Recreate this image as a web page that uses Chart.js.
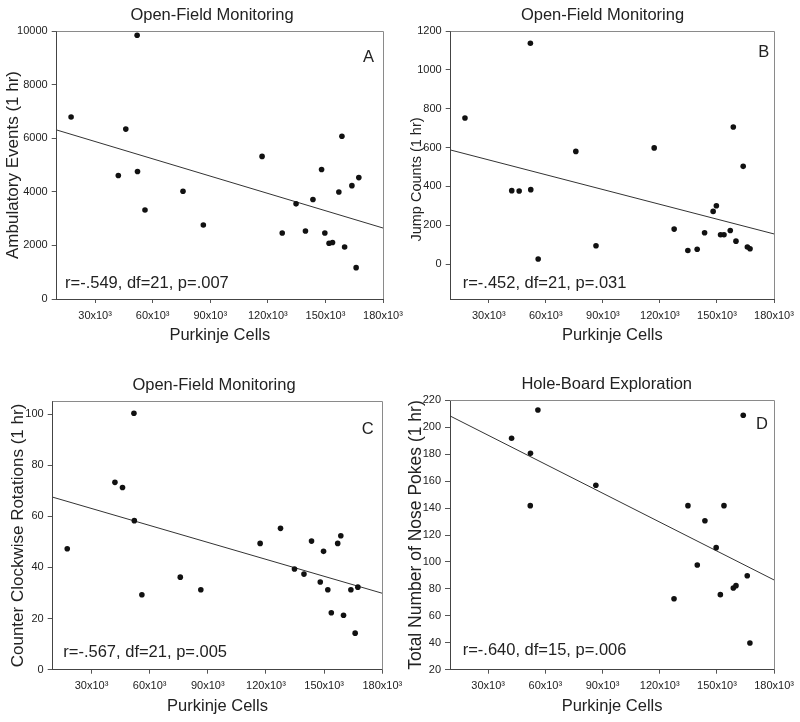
<!DOCTYPE html>
<html>
<head>
<meta charset="utf-8">
<title>Purkinje cells vs behaviour</title>
<script src="https://cdn.jsdelivr.net/npm/chart.js@4.4.0/dist/chart.umd.min.js"></script>
<style>
  body { margin: 0; background: #fff; width: 800px; height: 722px; position: relative; overflow: hidden; }
  canvas { position: absolute; }
</style>
</head>
<body>
<canvas id="panelA" width="420" height="361" style="left:0px;top:0px"></canvas>
<canvas id="panelB" width="400" height="361" style="left:400px;top:0px"></canvas>
<canvas id="panelC" width="420" height="361" style="left:0px;top:361px"></canvas>
<canvas id="panelD" width="400" height="361" style="left:400px;top:361px"></canvas>
<script>
// data

// Purkinje cell counts, same mice for panels A-C (n=23)
const purkinjeCells = [17500, 42100, 46000, 51900, 52100, 56000, 75800, 86400, 117000, 127500, 134700, 139600,
  143500, 148000, 149700, 151900, 153700, 157000, 158600, 160000, 163800, 166000, 167400];
const ambulatoryEvents = [6790, 4610, 6340, 9840, 4760, 3320, 4020, 2760, 5320, 2460, 3550, 2540,
  3710, 4830, 2460, 2080, 2110, 3990, 6070, 1940, 4230, 1170, 4530];
const jumpCounts = [752, 378, 376, 1137, 383, 26, 580, 94, 598, 180, 70, 76,
  161, 271, 300, 151, 151, 173, 706, 118, 503, 88, 79];
const ccwRotations = [47.3, 73.3, 71.3, 100.3, 58.3, 29.3, 36.2, 31.3, 49.4, 55.3, 39.4, 37.4,
  50.3, 34.3, 46.3, 31.3, 22.3, 49.4, 52.4, 21.3, 31.3, 14.3, 32.3];

// hole-board subset (n=17)
const holeBoardCells = [42300, 52200, 52100, 56100, 86500, 127500, 134800, 139700, 143700, 149600, 151800,
  153700, 158600, 160000, 163800, 165900, 167300];
const nosePokes = [191.8, 180.6, 141.8, 212.8, 156.9, 72.7, 141.8, 97.7, 130.6, 110.6, 75.7,
  141.8, 80.6, 82.4, 208.9, 89.8, 39.8];

// regression lines, ends read at the plot edges
const fitCells = [10000, 180000];
const ambulatoryFit = [6306, 2649];
const jumpFit = [587, 155];
const rotationFit = [67.5, 29.9];
const pokesFit = [208.4, 86.6];

// tick labels
const cellTicks = [30000, 60000, 90000, 120000, 150000, 180000];
const ambulatoryTicks = [0, 2000, 4000, 6000, 8000, 10000];
const jumpTicks = [0, 200, 400, 600, 800, 1000, 1200];
const rotationTicks = [0, 20, 40, 60, 80, 100];
const pokeTicks = [20, 40, 60, 80, 100, 120, 140, 160, 180, 200, 220];

const FONT = "'Liberation Sans', Arial, Helvetica, sans-serif";
const INK = "#222";

// frame on top/right + panel title, letter and stats text
const panelText = {
  id: "panelText",
  afterDraw(chart, args, opts) {
    const ctx = chart.ctx;
    const a = chart.chartArea;
    ctx.save();
    ctx.strokeStyle = "#8a8a8a";
    ctx.lineWidth = 1;
    ctx.beginPath();
    ctx.moveTo(a.left, Math.round(a.top) + 0.5);
    ctx.lineTo(Math.round(a.right) + 0.5, Math.round(a.top) + 0.5);
    ctx.lineTo(Math.round(a.right) + 0.5, a.bottom);
    ctx.stroke();

    ctx.fillStyle = INK;
    ctx.textBaseline = "alphabetic";
    ctx.font = "16.5px " + FONT;
    ctx.textAlign = "center";
    ctx.fillText(opts.title, opts.titleX, opts.titleY);
    ctx.textAlign = "left";
    ctx.fillText(opts.letter, opts.letterX, opts.letterY);
    ctx.fillText(opts.stats, opts.statsX, opts.statsY);
    ctx.restore();
  }
};

function makePanel(id, p) {
  const points = p.x.map((v, i) => ({ x: v, y: p.y[i] }));
  const fit = fitCells.map((v, i) => ({ x: v, y: p.fit[i] }));

  return new Chart(document.getElementById(id), {
    type: "scatter",
    data: {
      datasets: [
        {
          data: points,
          pointRadius: 2.8,
          pointBackgroundColor: "#111",
          pointBorderWidth: 0,
        },
        {
          data: fit,
          showLine: true,
          pointRadius: 0,
          borderColor: "#333",
          borderWidth: 1,
        },
      ],
    },
    options: {
      responsive: false,
      animation: false,
      events: [],
      layout: { padding: { left: 0, top: p.top, right: p.right, bottom: 0 } },
      plugins: {
        legend: { display: false },
        tooltip: { enabled: false },
        panelText: p.text,
      },
      scales: {
        x: {
          type: "linear",
          min: 10000,
          max: 180000,
          afterBuildTicks: (s) => { s.ticks = cellTicks.map((v) => ({ value: v })); },
          afterFit: (s) => { s.height = p.xHeight; },
          ticks: {
            font: { size: 11, family: FONT },
            color: INK,
            padding: 6,
            autoSkip: false,
            maxRotation: 0,
            callback: (v) => v / 1000 + "x10\u00b3",
          },
          grid: { drawOnChartArea: false, tickLength: 4, color: "#555" },
          border: { color: "#444" },
          title: {
            display: true,
            text: "Purkinje Cells",
            font: { size: 16.5, family: FONT },
            color: INK,
            padding: { top: 0, bottom: p.xTitlePad },
          },
        },
        y: {
          min: p.yMin,
          max: p.yMax,
          afterBuildTicks: (s) => { s.ticks = p.yTicks.map((v) => ({ value: v })); },
          afterFit: (s) => { s.width = p.yWidth; },
          ticks: {
            font: { size: 11, family: FONT },
            color: INK,
            padding: 4,
            callback: (v) => String(v),
          },
          grid: { drawOnChartArea: false, tickLength: 5, color: "#555" },
          border: { color: "#444" },
          title: {
            display: true,
            text: p.yLabel,
            font: { size: p.yLabelSize, family: FONT },
            color: INK,
            padding: { top: p.yTitlePad, bottom: 0 },
          },
        },
      },
    },
    plugins: [panelText],
  });
}

makePanel("panelA", {
  x: purkinjeCells, y: ambulatoryEvents, fit: ambulatoryFit,
  yMin: 0, yMax: 10000, yTicks: ambulatoryTicks,
  yLabel: "Ambulatory Events (1 hr)", yLabelSize: 17, yTitlePad: 3.5,
  top: 31, right: 37, yWidth: 56.7, xHeight: 62, xTitlePad: 15.5,
  text: {
    title: "Open-Field Monitoring", titleX: 212, titleY: 20,
    letter: "A", letterX: 363, letterY: 61.5,
    stats: "r=-.549, df=21, p=.007", statsX: 65, statsY: 287.5,
  },
});

// the label in panel B sits a bit below the axis middle: trailing spaces push it down
makePanel("panelB", {
  x: purkinjeCells, y: jumpCounts, fit: jumpFit,
  yMin: -180, yMax: 1200, yTicks: jumpTicks,
  yLabel: "Jump Counts (1 hr)\u2003\u2003", yLabelSize: 14.5, yTitlePad: 8.2,
  top: 31, right: 26, yWidth: 50.7, xHeight: 62, xTitlePad: 15.5,
  text: {
    title: "Open-Field Monitoring", titleX: 202.5, titleY: 20,
    letter: "B", letterX: 358.3, letterY: 56.7,
    stats: "r=-.452, df=21, p=.031", statsX: 62.7, statsY: 288.3,
  },
});

makePanel("panelC", {
  x: purkinjeCells, y: ccwRotations, fit: rotationFit,
  yMin: 0, yMax: 105, yTicks: rotationTicks,
  yLabel: "Counter Clockwise Rotations (1 hr)", yLabelSize: 17, yTitlePad: 8.2,
  top: 40.3, right: 37.7, yWidth: 52.7, xHeight: 52.3, xTitlePad: 6,
  text: {
    title: "Open-Field Monitoring", titleX: 214, titleY: 29,
    letter: "C", letterX: 361.7, letterY: 73,
    stats: "r=-.567, df=21, p=.005", statsX: 63.3, statsY: 295.7,
  },
});

makePanel("panelD", {
  x: holeBoardCells, y: nosePokes, fit: pokesFit,
  yMin: 20, yMax: 220, yTicks: pokeTicks,
  yLabel: "Total Number of Nose Pokes (1 hr)", yLabelSize: 17.5, yTitlePad: 6,
  top: 39.3, right: 24, yWidth: 50, xHeight: 52.3, xTitlePad: 6,
  text: {
    title: "Hole-Board Exploration", titleX: 206.7, titleY: 27.5,
    letter: "D", letterX: 356, letterY: 68.3,
    stats: "r=-.640, df=15, p=.006", statsX: 62.7, statsY: 294,
  },
});
</script>
</body>
</html>
